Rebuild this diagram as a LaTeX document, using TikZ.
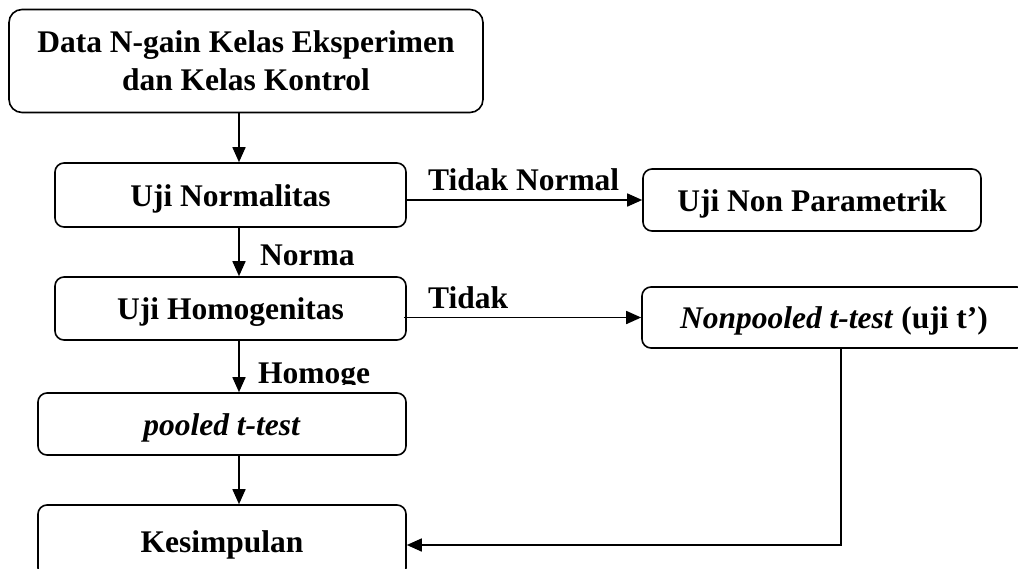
\documentclass[tikz,border=0pt]{standalone}
\usepackage{fontspec}
\setmainfont{Liberation Serif}
\usetikzlibrary{arrows.meta}
\begin{document}
\begin{tikzpicture}[x=1pt,y=-1pt,
  box/.style={draw,line width=1.6pt,rounded corners=9pt,inner sep=0pt,align=center,
    font=\fontsize{31.5}{38}\selectfont\bfseries},
  sbox/.style={box,text height=22pt,text depth=0pt},
  lbl/.style={inner sep=0pt,anchor=base west,font=\fontsize{31.5}{38}\selectfont\bfseries},
  arr/.style={line width=1.6pt,-{Triangle[length=15pt,width=13pt]}},
  ln/.style={line width=1.6pt}]
\clip (0,0) rectangle (1018,568);
\fill[white] (0,0) rectangle (1018,568);
\coordinate (spine) at (239,0);
\node[box,rounded corners=13pt,minimum width=474pt,minimum height=103pt] (data) at (246,61) {Data N-gain Kelas Eksperimen\\dan Kelas Kontrol};
\node[sbox,minimum width=351pt,minimum height=64pt] (norm) at (230.5,195) {Uji Normalitas};
\node[sbox,minimum width=351pt,minimum height=63pt] (homo) at (230.5,308.5) {Uji Homogenitas};
\node[sbox,minimum width=368pt,minimum height=62pt] (pool) at (222,424) {\textit{pooled t-test}};
\node[sbox,minimum width=368pt,minimum height=72pt] (kes) at (222,541) {Kesimpulan};
\node[sbox,minimum width=338pt,minimum height=62pt] (nonpar) at (812,200) {Uji Non Parametrik};
\node[sbox,minimum width=384pt,minimum height=61pt] (nonpool) at (834,317.5) {\textit{Nonpooled t-test} (uji t’)};
\draw[arr] (data.south -| spine) -- (norm.north -| spine);
\draw[arr] (norm.south -| spine) -- (homo.north -| spine);
\draw[arr] (homo.south -| spine) -- (pool.north -| spine);
\draw[arr] (pool.south -| spine) -- (kes.north -| spine);
\draw[arr] (norm.east |- nonpar.west) -- (nonpar.west);
\draw[arr] ([xshift=-3pt]homo.east |- nonpool.west) -- (nonpool.west);
\draw[arr] ([xshift=7pt]nonpool.south) |- ([yshift=-4pt]kes.east);
\node[lbl] (ltn) at (428,190) {Tidak Normal};
\node[lbl] (lnorma) at (260,265) {Norma};
\node[lbl] (ltidak) at (428,308) {Tidak};
\begin{scope}
\clip (250,340) rectangle (500,384);
\node[lbl] (lhomoge) at (258,383) {Homoge};
\end{scope}
\end{tikzpicture}
\end{document}
